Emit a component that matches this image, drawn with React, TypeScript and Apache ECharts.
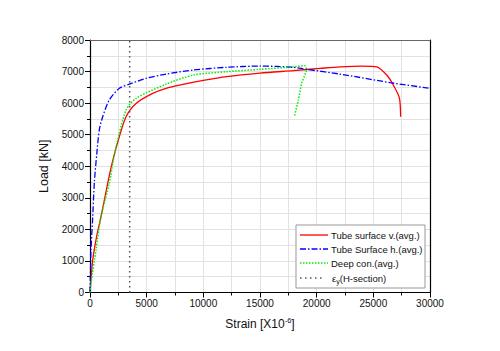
import React, { useEffect, useRef } from "react";
import * as echarts from "echarts";

const redStrain = [0, 240, 600, 970, 1560, 2000, 2590, 3180, 4060, 5530, 6710, 8000, 10000, 12060, 15000, 17940, 20300, 22060, 24000, 25300, 26180, 26760, 27300, 27410];
const redLoad = [0, 1030, 1800, 2400, 3460, 4170, 4940, 5570, 5990, 6310, 6470, 6580, 6720, 6840, 6950, 7030, 7100, 7150, 7175, 7150, 6890, 6575, 6160, 5570];

const blueStrain = [0, 30, 90, 240, 380, 600, 820, 1120, 1700, 2590, 3470, 4940, 6710, 9120, 12060, 15000, 17940, 19120, 22060, 26470, 30000];
const blueLoad = [0, 500, 1350, 2400, 3470, 4400, 5150, 5570, 6100, 6470, 6600, 6785, 6920, 7050, 7135, 7175, 7135, 7070, 6920, 6650, 6470];

const greenStrain = [0, 90, 530, 970, 1700, 2230, 3180, 4060, 6710, 9120, 12060, 15000, 17940, 18970, 19100, 18680, 18380, 18030];
const greenLoad = [0, 300, 1350, 2400, 3460, 4510, 5780, 6150, 6600, 6890, 6995, 7070, 7150, 7185, 7080, 6630, 6100, 5570];

const yieldStrain = [3500, 3500];
const yieldLoad = [0, 8000];

const seriesNames = ["Tube surface v.(avg.)", "Tube Surface h.(avg.)", "Deep con.(avg.)", "εy(H-section)"];
const seriesColors = ["#ff0000", "#0000ff", "#00ee00", "#555555"];
const seriesDash: (string | number[])[] = ["solid", [6, 2, 1.5, 2], [1.5, 1.5], [1.5, 3.5]];
const seriesWidth = [1.3, 1.3, 1.5, 1.5];

const zip = (xs: number[], ys: number[]) => xs.map((x, i) => [x, ys[i]]);

export default function App() {
  const ref = useRef<HTMLDivElement>(null);
  useEffect(() => {
    if (!ref.current) return;
    const chart = echarts.init(ref.current, null, { renderer: "svg" });
    const font = "Liberation Sans, Arial, sans-serif";

    const legendX = 296;
    const legendY = 225;
    const rowY = [235, 249, 263, 278];
    const legendGraphics: any[] = [
      {
        type: "rect",
        shape: { x: legendX, y: legendY, width: 129, height: 63 },
        style: { fill: "#ffffff", stroke: "#999999", lineWidth: 1 },
        z: 100,
      },
    ];
    seriesNames.forEach((name, i) => {
      const dash = seriesDash[i];
      legendGraphics.push({
        type: "line",
        shape: { x1: 300, y1: rowY[i], x2: i === 3 ? 322 : 328, y2: rowY[i] },
        style: {
          stroke: seriesColors[i],
          lineWidth: seriesWidth[i],
          lineDash: dash === "solid" ? null : dash,
        },
        z: 101,
      });
      if (i === 3) {
        legendGraphics.push({
          type: "text",
          x: 332,
          y: rowY[i],
          style: {
            text: "{eps|ε}{sub|y}{eps|(H-section)}",
            verticalAlign: "middle",
            fontFamily: font,
            rich: {
              eps: { fontSize: 9.5, fill: "#111", fontFamily: font },
              sub: { fontSize: 7, fill: "#111", fontFamily: font, padding: [6, 0, 0, 0] },
            },
          },
          z: 101,
        });
      } else {
        legendGraphics.push({
          type: "text",
          x: 331,
          y: rowY[i],
          style: { text: name, fontSize: 9.5, fill: "#111", fontFamily: font, verticalAlign: "middle" },
          z: 101,
        });
      }
    });

    const plain = (v: number) => String(v);

    chart.setOption({
      animation: false,
      backgroundColor: "#ffffff",
      textStyle: { fontFamily: font },
      grid: { left: 90, right: 70, top: 40, bottom: 58.5, containLabel: false },
      graphic: legendGraphics,
      xAxis: [
        {
          type: "value",
          min: 0,
          max: 30000,
          interval: 5000,
          name: "Strain [X10{sup|-6}]",
          nameLocation: "middle",
          nameGap: 24,
          nameTextStyle: {
            fontSize: 12,
            color: "#111",
            fontFamily: font,
            rich: { sup: { fontSize: 7.5, color: "#111", fontFamily: font, padding: [0, 0, 7, 0] } },
          },
          axisLine: { show: true, onZero: false, lineStyle: { color: "#000", width: 1.2 } },
          axisTick: { show: true, inside: false, length: 5, lineStyle: { color: "#000" } },
          minorTick: { show: true, splitNumber: 2, length: 3, lineStyle: { color: "#000" } },
          axisLabel: { fontSize: 10, color: "#111", margin: 6, fontFamily: font, formatter: plain },
          splitLine: { show: true, lineStyle: { color: "#e2e2e2", width: 1 } },
          minorSplitLine: { show: true, lineStyle: { color: "#e2e2e2", width: 1 } },
        },
        {
          type: "value",
          position: "top",
          min: 0,
          max: 30000,
          interval: 5000,
          axisLine: { show: true, onZero: false, lineStyle: { color: "#666", width: 1.2 } },
          axisTick: { show: false },
          axisLabel: { show: false },
          splitLine: { show: false },
        },
      ],
      yAxis: [
        {
          type: "value",
          min: 0,
          max: 8000,
          interval: 1000,
          name: "Load [kN]",
          nameLocation: "middle",
          nameGap: 40,
          nameRotate: 90,
          nameTextStyle: { fontSize: 12.5, color: "#111", fontFamily: font },
          axisLine: { show: true, onZero: false, lineStyle: { color: "#000", width: 1.2 } },
          axisTick: { show: true, inside: false, length: 5, lineStyle: { color: "#000" } },
          minorTick: { show: true, splitNumber: 2, length: 3, lineStyle: { color: "#000" } },
          axisLabel: { fontSize: 10, color: "#111", margin: 6, fontFamily: font, formatter: plain },
          splitLine: { show: true, lineStyle: { color: "#e2e2e2", width: 1 } },
          minorSplitLine: { show: true, lineStyle: { color: "#e2e2e2", width: 1 } },
        },
        {
          type: "value",
          position: "right",
          min: 0,
          max: 8000,
          interval: 1000,
          axisLine: { show: true, onZero: false, lineStyle: { color: "#000", width: 1.2 } },
          axisTick: { show: false },
          axisLabel: { show: false },
          splitLine: { show: false },
        },
      ],
      series: [
        {
          name: seriesNames[0],
          type: "line",
          data: zip(redStrain, redLoad),
          smooth: 0.25,
          symbol: "none",
          lineStyle: { color: seriesColors[0], width: seriesWidth[0], type: seriesDash[0] },
        },
        {
          name: seriesNames[1],
          type: "line",
          data: zip(blueStrain, blueLoad),
          smooth: 0.25,
          symbol: "none",
          lineStyle: { color: seriesColors[1], width: seriesWidth[1], type: seriesDash[1] },
        },
        {
          name: seriesNames[2],
          type: "line",
          data: zip(greenStrain, greenLoad),
          smooth: 0.25,
          symbol: "none",
          lineStyle: { color: seriesColors[2], width: seriesWidth[2], type: seriesDash[2] },
        },
        {
          name: seriesNames[3],
          type: "line",
          data: zip(yieldStrain, yieldLoad),
          symbol: "none",
          lineStyle: { color: seriesColors[3], width: seriesWidth[3], type: seriesDash[3] },
        },
      ],
    });
    return () => chart.dispose();
  }, []);
  return <div ref={ref} style={{ position: "fixed", left: 0, top: 0, width: 500, height: 351 }} />;
}
